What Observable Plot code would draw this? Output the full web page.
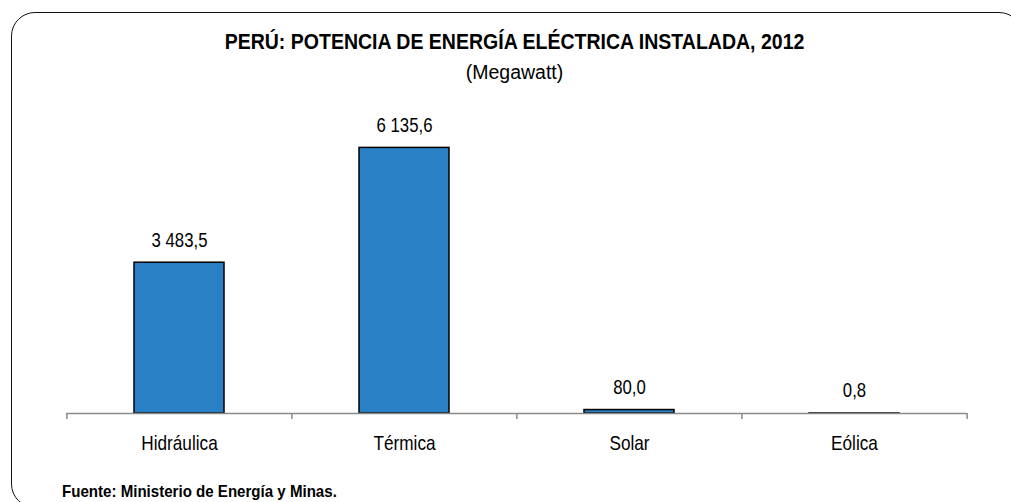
<!DOCTYPE html>
<html>
<head>
<meta charset="utf-8">
<script src="https://cdn.jsdelivr.net/npm/d3@7"></script>
<script src="https://cdn.jsdelivr.net/npm/@observablehq/plot@0.6"></script>
<style>
  body { margin: 0; background: #fff; }
  #wrap {
    position: relative; width: 1011px; height: 502px; overflow: hidden;
    font-family: "Liberation Sans", Arial, sans-serif;
    color: #000;
  }
  #frame {
    position: absolute; left: 11px; top: 12px; width: 1012px; height: 496px;
    border: 1.5px solid #111; border-radius: 24px; box-sizing: border-box;
  }
  #title {
    position: absolute; top: 30.5px; left: 0; width: 1029px; text-align: center;
    font-weight: bold; font-size: 22px; line-height: 22px; white-space: nowrap;
    transform: scaleX(0.887); transform-origin: 514.5px 0;
  }
  #subtitle {
    position: absolute; top: 63px; left: 0; width: 1029px; text-align: center;
    font-size: 19.5px; line-height: 19.5px; white-space: nowrap;
  }
  #source {
    position: absolute; top: 483px; left: 62px;
    font-weight: bold; font-size: 17px; line-height: 17px; white-space: nowrap;
    transform: scaleX(0.887); transform-origin: 0 0;
  }
  #chart { position: absolute; left: 0; top: 0; }
</style>
</head>
<body>
<div id="wrap">
  <div id="frame"></div>
  <div id="chart"></div>
  <div id="title">PERÚ: POTENCIA DE ENERGÍA ELÉCTRICA INSTALADA, 2012</div>
  <div id="subtitle">(Megawatt)</div>
  <div id="source">Fuente: Ministerio de Energía y Minas.</div>
</div>
<script>
// Installed capacity by source (MW)
const sources = ["Hidráulica", "Térmica", "Solar", "Eólica"];
const capacity = [3483.5, 6135.6, 80.0, 0.8];

const data = sources.map((s, i) => ({source: s, mw: capacity[i]}));

// Spanish number style: space for thousands, comma for decimals
const esFmt = d3.formatLocale({decimal: ",", thousands: " ", grouping: [3], currency: ["", ""]}).format(",.1f");

const W = 1011, H = 502;
const mL = 66, mR = 44;
const step = (W - mL - mR) / sources.length;
const axisGray = "#8a8a8a";

const chart = Plot.plot({
  width: W,
  height: H,
  marginTop: 110,
  marginBottom: 89,
  marginLeft: mL,
  marginRight: mR,
  style: {fontFamily: '"Liberation Sans", Arial, sans-serif', fontSize: "20px", color: "#000", background: "transparent", overflow: "visible"},
  x: {domain: sources, paddingInner: 0.6, paddingOuter: 0.3},
  y: {domain: [0, 7000], axis: null},
  marks: [
    Plot.barY(data, {x: "source", y: "mw", fill: "#2980c4", stroke: "#000", strokeWidth: 1.5}),
    // category axis line with ticks at the category boundaries
    Plot.ruleY([0], {stroke: axisGray, strokeWidth: 1.5}),
    Plot.ruleX(sources, {x: d => d, y1: 0, y2: 0, dx: -step / 2, insetBottom: -6, stroke: axisGray, strokeWidth: 1.5}),
    Plot.ruleX(sources.slice(-1), {x: d => d, y1: 0, y2: 0, dx: step / 2, insetBottom: -6, stroke: axisGray, strokeWidth: 1.5}),
    Plot.axisX({tickSize: 0, tickPadding: 22, fontSize: 20, label: null}),
    // value labels above each bar
    Plot.text(data, {x: "source", y: "mw", text: d => esFmt(d.mw), lineAnchor: "bottom", dy: -16, fontSize: 19.5, fill: "#000"})
  ]
});

// narrow the chart lettering horizontally around each label's anchor
d3.select(chart).selectAll("text").each(function () {
  const t = this.getAttribute("transform") || "";
  this.setAttribute("transform", (t + " scale(0.86,1)").trim());
});

document.getElementById("chart").appendChild(chart);
</script>
</body>
</html>
